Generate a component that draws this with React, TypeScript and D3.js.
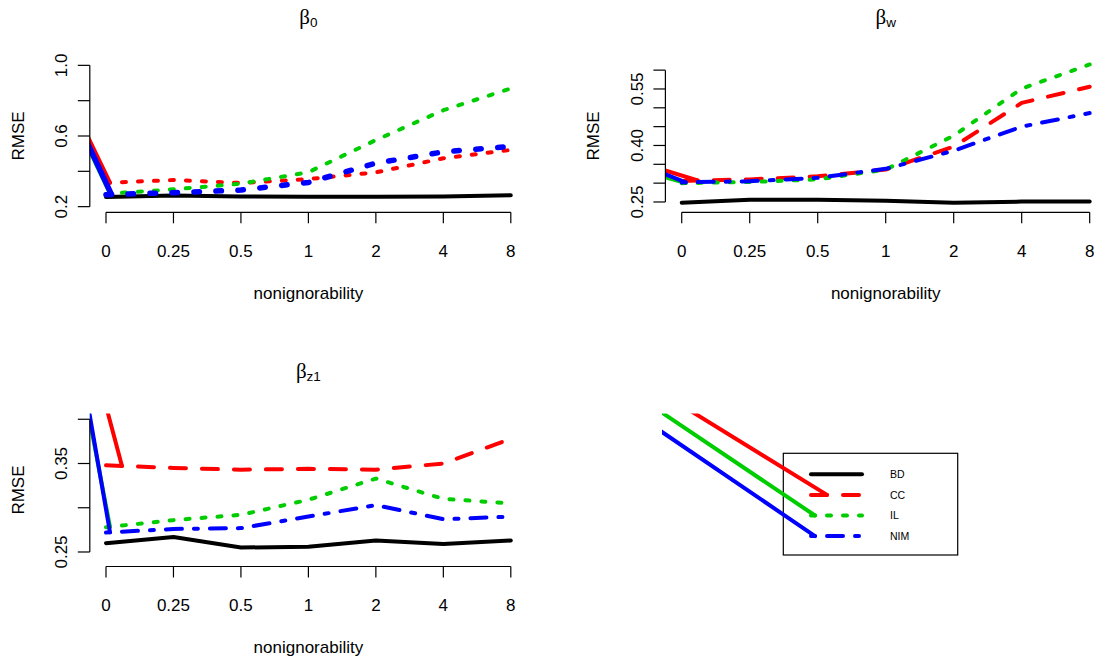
import React from "react";
import * as d3 from "d3";

// ---------- data ----------
const xLabels = ["0", "0.25", "0.5", "1", "2", "4", "8"];
const seriesNames = ["BD", "CC", "IL", "NIM"];
const seriesColors = ["#000000", "#FF0000", "#00CD00", "#0000FF"];

const beta0BD = [0.255, 0.263, 0.258, 0.256, 0.256, 0.257, 0.265];
const beta0CC = [0.335, 0.351, 0.334, 0.356, 0.394, 0.474, 0.521];
const beta0IL = [0.272, 0.298, 0.33, 0.395, 0.577, 0.746, 0.869];
const beta0NIM = [0.268, 0.279, 0.294, 0.337, 0.446, 0.51, 0.541];

const betaWBD = [0.248, 0.256, 0.256, 0.253, 0.248, 0.251, 0.251];
const betaWCC = [0.306, 0.31, 0.318, 0.336, 0.397, 0.513, 0.556];
const betaWIL = [0.3, 0.303, 0.31, 0.336, 0.426, 0.551, 0.615];
const betaWNIM = [0.302, 0.305, 0.314, 0.338, 0.386, 0.45, 0.486];

const betaZ1BD = [0.26, 0.267, 0.255, 0.256, 0.263, 0.259, 0.263];
const betaZ1CC = [0.348, 0.345, 0.343, 0.344, 0.343, 0.35, 0.378];
const betaZ1IL = [0.278, 0.286, 0.292, 0.309, 0.333, 0.31, 0.305];
const betaZ1NIM = [0.272, 0.276, 0.277, 0.29, 0.303, 0.287, 0.29];

const beta0Ticks = [0.2, 0.4, 0.6, 0.8, 1.0];
const beta0TickLabels = ["0.2", "", "0.6", "", "1.0"];
const betaWTicks = [0.25, 0.3, 0.35, 0.4, 0.45, 0.5, 0.55, 0.6];
const betaWTickLabels = ["0.25", "", "", "0.40", "", "", "0.55", ""];
const betaZ1Ticks = [0.25, 0.3, 0.35, 0.4];
const betaZ1TickLabels = ["0.25", "", "0.35", ""];

// stray pen start (x index, RMSE) of the CC, IL, NIM lines (rendering artifact)
const beta0PenStart = [[-0.247, 0.578], [-0.247, 0.521], [-0.247, 0.538]];
const betaWPenStart = [[-0.245, 0.334], [-0.245, 0.316], [-0.245, 0.324]];
const betaZ1PenStart = [[0.03, 0.4064], [-0.26, 0.4064], [-0.245, 0.4064]];

// ---------- layout ----------
const FONT = "Liberation Sans, Arial, Helvetica, sans-serif";
const W = 1101;
const H = 660;

type Box = { left: number; right: number; top: number; bottom: number };

const panels = [
  {
    id: "p1",
    sub: "0",
    series: [beta0BD, beta0CC, beta0IL, beta0NIM],
    ltys: [1, 3, 3, 3],
    lwds: [4, 4, 4, 5.5],
    ticks: beta0Ticks,
    tickLabels: beta0TickLabels,
    pen: beta0PenStart,
    ylim: [0.2, 1.0],
    box: { left: 89.8, right: 527, top: 59.7, bottom: 212.3 } as Box,
  },
  {
    id: "p2",
    sub: "w",
    series: [betaWBD, betaWCC, betaWIL, betaWNIM],
    ltys: [1, 2, 3, 4],
    lwds: [4, 4, 4, 4],
    ticks: betaWTicks,
    tickLabels: betaWTickLabels,
    pen: betaWPenStart,
    ylim: [0.2376, 0.6127],
    box: { left: 665.4, right: 1106, top: 59.7, bottom: 212.3 } as Box,
  },
  {
    id: "p3",
    sub: "z1",
    series: [betaZ1BD, betaZ1CC, betaZ1IL, betaZ1NIM],
    ltys: [1, 2, 3, 4],
    lwds: [4, 4, 4, 4],
    ticks: betaZ1Ticks,
    tickLabels: betaZ1TickLabels,
    pen: betaZ1PenStart,
    ylim: [0.24, 0.4],
    box: { left: 89.8, right: 527, top: 413.6, bottom: 566.5 } as Box,
  },
];

const legendClip: Box = { left: 662, right: 1106, top: 413.6, bottom: 566.5 };
const legendBox = { x: 783.3, y: 453.3, w: 174.4, h: 101.7 };
const legendKeyX = [811, 862];
const legendTextX = 890;
const legendRowY0 = 474.3;
const legendRowStep = 20.6;
const legendLty = [1, 2, 3, 4];
const legendPenStart = [null, [695, 413.6], [664, 414], [662, 432]];

const ltyPattern: Record<number, number[] | null> = {
  1: null,
  2: [4, 4],
  3: [1, 3],
  4: [1, 3, 4, 3],
};

type Pt = [number, number];

function pointAt(pts: Pt[], d: number): Pt {
  let rem = d;
  for (let i = 1; i < pts.length; i++) {
    const [x0, y0] = pts[i - 1];
    const [x1, y1] = pts[i];
    const len = Math.hypot(x1 - x0, y1 - y0);
    if (rem <= len) {
      const t = len === 0 ? 0 : rem / len;
      return [x0 + (x1 - x0) * t, y0 + (y1 - y0) * t];
    }
    rem -= len;
  }
  return pts[pts.length - 1];
}

function extendFrom(o: Pt, e: Pt, by: number): Pt {
  const dx = o[0] - e[0];
  const dy = o[1] - e[1];
  const l = Math.hypot(dx, dy) || 1;
  return [o[0] + (dx / l) * by, o[1] + (dy / l) * by];
}

function Line({
  pts,
  color,
  lwd,
  lty,
  pen,
  clip,
}: {
  pts: Pt[];
  color: string;
  lwd: number;
  lty: number;
  pen: Pt | null;
  clip?: string;
}) {
  const pat = ltyPattern[lty];
  const lineGen = d3.line<Pt>().x((d) => d[0]).y((d) => d[1]);
  const d = lineGen(pts) || "";
  const dash = pat ? pat.map((v) => v * lwd).join(",") : undefined;
  let lead: React.ReactNode = null;
  if (pat && pen) {
    const e = pointAt(pts, pat[0] * lwd);
    const o = extendFrom(pen, e, 60);
    lead = (
      <line
        x1={o[0]}
        y1={o[1]}
        x2={e[0]}
        y2={e[1]}
        stroke={color}
        strokeWidth={lwd}
        strokeLinecap="round"
        clipPath={clip}
      />
    );
  }
  return (
    <g>
      <path
        d={d}
        fill="none"
        stroke={color}
        strokeWidth={lwd}
        strokeLinecap="round"
        strokeLinejoin="round"
        strokeDasharray={dash}
      />
      {lead}
    </g>
  );
}

function Panel({ p }: { p: (typeof panels)[number] }) {
  const { box } = p;
  const x = d3.scaleLinear().domain([-0.24, 6.24]).range([box.left, box.right]);
  const [a, b] = p.ylim;
  const ext = (b - a) * 0.04;
  const y = d3.scaleLinear().domain([a - ext, b + ext]).range([box.bottom, box.top]);
  const clipId = `clip-${p.id}`;
  const tickIdx = d3.range(xLabels.length);
  const cx = (box.left + box.right) / 2;
  const cy = (box.top + box.bottom) / 2;
  const titleY = box.top - 35.7;
  const yTop = y(p.ticks[p.ticks.length - 1]);
  const yBot = y(p.ticks[0]);
  return (
    <g>
      <defs>
        <clipPath id={clipId}>
          <rect x={box.left} y={box.top} width={box.right - box.left} height={box.bottom - box.top} />
        </clipPath>
      </defs>
      <g clipPath={`url(#${clipId})`}>
        {p.series.map((vals, si) => {
          const pts: Pt[] = vals.map((v, i) => [x(i), y(v)]);
          const ps = si > 0 ? p.pen[si - 1] : null;
          const pen: Pt | null = ps ? [x(ps[0]), y(ps[1])] : null;
          return (
            <Line
              key={si}
              pts={pts}
              color={seriesColors[si]}
              lwd={p.lwds[si]}
              lty={p.ltys[si]}
              pen={pen}
            />
          );
        })}
      </g>
      {/* y axis */}
      <line x1={box.left} x2={box.left} y1={yBot} y2={yTop} stroke="#000" strokeWidth={1.2} />
      {p.ticks.map((t, i) => (
        <g key={i}>
          <line x1={box.left - 12} x2={box.left} y1={y(t)} y2={y(t)} stroke="#000" strokeWidth={1.2} />
          {p.tickLabels[i] ? (
            <text
              transform={`translate(${box.left - 22.8},${y(t)}) rotate(-90)`}
              textAnchor="middle"
              fontFamily={FONT}
              fontSize={17}
            >
              {p.tickLabels[i]}
            </text>
          ) : null}
        </g>
      ))}
      {/* x axis */}
      <line x1={x(0)} x2={x(6)} y1={box.bottom} y2={box.bottom} stroke="#000" strokeWidth={1.2} />
      {tickIdx.map((i) => (
        <g key={i}>
          <line x1={x(i)} x2={x(i)} y1={box.bottom} y2={box.bottom + 11} stroke="#000" strokeWidth={1.2} />
          <text x={x(i)} y={box.bottom + 44.7} textAnchor="middle" fontFamily={FONT} fontSize={17}>
            {xLabels[i]}
          </text>
        </g>
      ))}
      <text x={cx} y={box.bottom + 86.7} textAnchor="middle" fontFamily={FONT} fontSize={17}>
        nonignorability
      </text>
      <text
        transform={`translate(${box.left - 66.3},${cy}) rotate(-90)`}
        textAnchor="middle"
        fontFamily={FONT}
        fontSize={17}
      >
        RMSE
      </text>
      <text x={cx} y={titleY} textAnchor="middle">
        <tspan fontFamily="Liberation Serif, serif" fontSize={21}>
          β
        </tspan>
        <tspan fontFamily={FONT} fontSize={13.5} dy={3}>
          {p.sub}
        </tspan>
      </text>
    </g>
  );
}

function Legend() {
  return (
    <g>
      <defs>
        <clipPath id="clip-legend">
          <rect
            x={legendClip.left}
            y={legendClip.top}
            width={legendClip.right - legendClip.left}
            height={legendClip.bottom - legendClip.top}
          />
        </clipPath>
      </defs>
      <rect
        x={legendBox.x}
        y={legendBox.y}
        width={legendBox.w}
        height={legendBox.h}
        fill="none"
        stroke="#000"
        strokeWidth={1.2}
      />
      {seriesNames.map((name, i) => {
        const yy = legendRowY0 + i * legendRowStep;
        const pts: Pt[] = [
          [legendKeyX[0], yy],
          [legendKeyX[1], yy],
        ];
        const ps = legendPenStart[i] as Pt | null;
        return (
          <g key={name}>
            <Line
              pts={pts}
              color={seriesColors[i]}
              lwd={4}
              lty={legendLty[i]}
              pen={ps}
              clip="url(#clip-legend)"
            />
            <text x={legendTextX} y={yy + 3.8} fontFamily={FONT} fontSize={10.5}>
              {name}
            </text>
          </g>
        );
      })}
    </g>
  );
}

export default function App() {
  return (
    <svg
      width={W}
      height={H}
      viewBox={`0 0 ${W} ${H}`}
      style={{ position: "absolute", left: 0, top: 0, background: "#fff" }}
    >
      <rect x={0} y={0} width={W} height={H} fill="#fff" />
      {panels.map((p) => (
        <Panel key={p.id} p={p} />
      ))}
      <Legend />
    </svg>
  );
}
